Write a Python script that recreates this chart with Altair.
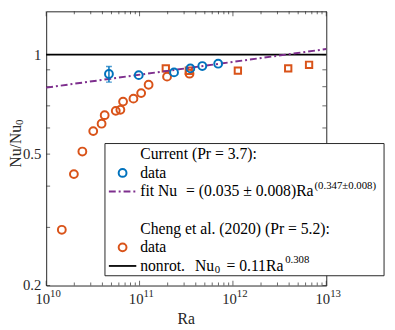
import altair as alt
import pandas as pd

# ---------------- data ----------------
cur_ra = [4.7e10, 9.8e10, 2.34e11, 3.5e11, 4.7e11, 6.95e11]
cur_nu = [0.874, 0.867, 0.884, 0.909, 0.924, 0.939]

err_ra = [4.7e10]
err_lo = [0.826]
err_hi = [0.921]

fit_ra = [1e10, 1e13]
fit_nu = [0.795, 1.04]

cheng_c_ra = [1.47e10, 1.98e10, 2.44e10, 3.19e10, 3.92e10, 4.23e10, 5.56e10,
              6.23e10, 6.66e10, 8.6e10, 1.04e11, 1.25e11, 1.97e11, 3.43e11]
cheng_c_nu = [0.295, 0.435, 0.509, 0.587, 0.618, 0.656, 0.676,
              0.681, 0.721, 0.736, 0.765, 0.811, 0.858, 0.876]

cheng_s_ra = [1.91e11, 3.37e11, 1.13e12, 3.91e12, 6.54e12]
cheng_s_nu = [0.909, 0.894, 0.895, 0.909, 0.932]

nonrot_ra = [1e10, 1e13]
nonrot_nu = [1.0, 1.0]

x_major = [1e10, 1e11, 1e12, 1e13]
x_exp = ["10", "11", "12", "13"]
x_minor = [m * 10.0 ** e for e in (10, 11, 12) for m in range(2, 10)]
y_ticks = [0.2, 0.3, 0.4, 0.5, 0.6, 0.7, 0.8, 0.9, 1.0]
y_labels = [0.2, 0.5, 1.0]
y_label_text = ["0.2", "0.5", "1"]

# ---------------- layout ----------------
W, H = 286, 280
FONT = "Liberation Serif"
FS = 16
TFS = 15
SUP = 11
AX = "#262626"
BLUE = "#0072BD"
ORANGE = "#D95319"
PURPLE = "#7E2F8E"

xs = alt.Scale(type="log", domain=[1e10, 1e13])
ys = alt.Scale(type="log", domain=[0.2, 1.353])
dummy = pd.DataFrame({"a": [0]})


def X(field):
    return alt.X(f"{field}:Q", scale=xs, axis=None)


def Y(field):
    return alt.Y(f"{field}:Q", scale=ys, axis=None)


def txt(s, x, y, size=FS, align="left", angle=None, color="black"):
    kw = dict(align=align, baseline="middle", fontSize=size, font=FONT, color=color)
    if angle is not None:
        kw["angle"] = angle
    return alt.Chart(dummy).mark_text(**kw).encode(
        x=alt.value(x), y=alt.value(y), text=alt.value(s))


layers = []

# inward ticks
tick_kw = dict(color=AX, thickness=1)
xmaj = pd.DataFrame({"v": x_major, "e": x_exp})
xmin = pd.DataFrame({"v": x_minor})
ytk = pd.DataFrame({"v": y_ticks})
ylb = pd.DataFrame({"v": y_labels, "t": y_label_text})
for df, ln in ((xmaj, 5), (xmin, 3)):
    layers.append(alt.Chart(df).mark_tick(orient="vertical", size=ln, **tick_kw).encode(
        x=X("v"), y=alt.value(H - ln / 2)))
    layers.append(alt.Chart(df).mark_tick(orient="vertical", size=ln, **tick_kw).encode(
        x=X("v"), y=alt.value(ln / 2)))
layers.append(alt.Chart(ytk).mark_tick(orient="horizontal", size=4, **tick_kw).encode(
    y=Y("v"), x=alt.value(2)))
layers.append(alt.Chart(ytk).mark_tick(orient="horizontal", size=4, **tick_kw).encode(
    y=Y("v"), x=alt.value(W - 2)))

# y tick labels
layers.append(alt.Chart(ylb).mark_text(align="right", baseline="middle",
                                       fontSize=TFS, font=FONT, color=AX).encode(
    y=Y("v"), x=alt.value(-5), text="t:N"))

# x tick labels 10^n
layers.append(alt.Chart(xmaj).mark_text(align="right", baseline="middle", dx=4,
                                        fontSize=TFS, font=FONT, color=AX).encode(
    x=X("v"), y=alt.value(H + 14), text=alt.value("10")))
layers.append(alt.Chart(xmaj).mark_text(align="left", baseline="middle", dx=4,
                                        fontSize=SUP, font=FONT, color=AX).encode(
    x=X("v"), y=alt.value(H + 9), text="e:N"))

# data
cc = pd.DataFrame({"ra": cheng_c_ra, "nu": cheng_c_nu})
cs = pd.DataFrame({"ra": cheng_s_ra, "nu": cheng_s_nu})
cu = pd.DataFrame({"ra": cur_ra, "nu": cur_nu})
er = pd.DataFrame({"ra": err_ra, "lo": err_lo, "hi": err_hi})
fi = pd.DataFrame({"ra": fit_ra, "nu": fit_nu})
nr = pd.DataFrame({"ra": nonrot_ra, "nu": nonrot_nu})

layers.append(alt.Chart(cc).mark_point(shape="circle", filled=False, size=64,
                                       strokeWidth=2, color=ORANGE, opacity=1).encode(
    x=X("ra"), y=Y("nu")))
layers.append(alt.Chart(cs).mark_point(shape="square", filled=False, size=42,
                                       strokeWidth=2, color=ORANGE, opacity=1).encode(
    x=X("ra"), y=Y("nu")))
layers.append(alt.Chart(nr).mark_line(color="black", strokeWidth=1.8).encode(
    x=X("ra"), y=Y("nu")))
layers.append(alt.Chart(fi).mark_line(color=PURPLE, strokeWidth=2,
                                      strokeDash=[7, 3, 2, 3]).encode(
    x=X("ra"), y=Y("nu")))
layers.append(alt.Chart(er).mark_rule(color=BLUE, strokeWidth=1.5).encode(
    x=X("ra"), y=Y("lo"), y2="hi:Q"))
layers.append(alt.Chart(er).mark_tick(orient="horizontal", size=6, thickness=1.5,
                                      color=BLUE).encode(x=X("ra"), y=Y("lo")))
layers.append(alt.Chart(er).mark_tick(orient="horizontal", size=6, thickness=1.5,
                                      color=BLUE).encode(x=X("ra"), y=Y("hi")))
layers.append(alt.Chart(cu).mark_point(shape="circle", filled=False, size=64,
                                       strokeWidth=2, color=BLUE, opacity=1).encode(
    x=X("ra"), y=Y("nu")))

# axis titles
layers.append(txt("Ra", W / 2, H + 34, size=FS, align="center", color=AX))
layers.append(txt("Nu/Nu", -31, 116, size=FS, align="right", angle=270, color=AX))
layers.append(txt("0", -27, 116, size=SUP, align="left", angle=270, color=AX))

# legend box
layers.append(alt.Chart(dummy).mark_rect(fill="white", stroke=AX, strokeWidth=1).encode(
    x=alt.value(60), x2=alt.value(345), y=alt.value(135), y2=alt.value(270)))

# legend rows
layers.append(txt("Current (Pr = 3.7):", 96, 146))
layers.append(alt.Chart(dummy).mark_point(shape="circle", filled=False, size=64,
                                          strokeWidth=2, color=BLUE, opacity=1).encode(
    x=alt.value(78), y=alt.value(165)))
layers.append(txt("data", 96, 165))
layers.append(alt.Chart(dummy).mark_rule(color=PURPLE, strokeWidth=2,
                                         strokeDash=[7, 3, 2, 3]).encode(
    x=alt.value(64), x2=alt.value(92), y=alt.value(184)))
layers.append(txt("fit Nu", 96, 184))
layers.append(txt("= (0.035 ± 0.008)Ra", 273, 184, align="right"))
layers.append(txt("(0.347±0.008)", 274, 178, size=SUP))
layers.append(txt("Cheng et al. (2020) (Pr = 5.2):", 96, 222))
layers.append(alt.Chart(dummy).mark_point(shape="circle", filled=False, size=64,
                                          strokeWidth=2, color=ORANGE, opacity=1).encode(
    x=alt.value(78), y=alt.value(241)))
layers.append(txt("data", 96, 241))
layers.append(alt.Chart(dummy).mark_rule(color="black", strokeWidth=1.8).encode(
    x=alt.value(64), x2=alt.value(92), y=alt.value(260)))
layers.append(txt("nonrot.", 96, 260))
layers.append(txt("Nu", 152, 260))
layers.append(txt("0", 172, 264, size=SUP))
layers.append(txt("= 0.11Ra", 184, 260))
layers.append(txt("0.308", 244, 254, size=SUP))

chart = alt.layer(*layers).properties(
    width=W, height=H,
    autosize=alt.AutoSizeParams(type="none"),
    padding={"left": 39, "top": 0, "right": 62, "bottom": 42},
).configure_view(stroke=AX, strokeWidth=1)

chart.save("out.html", embed_options={"renderer": "svg", "actions": False})
